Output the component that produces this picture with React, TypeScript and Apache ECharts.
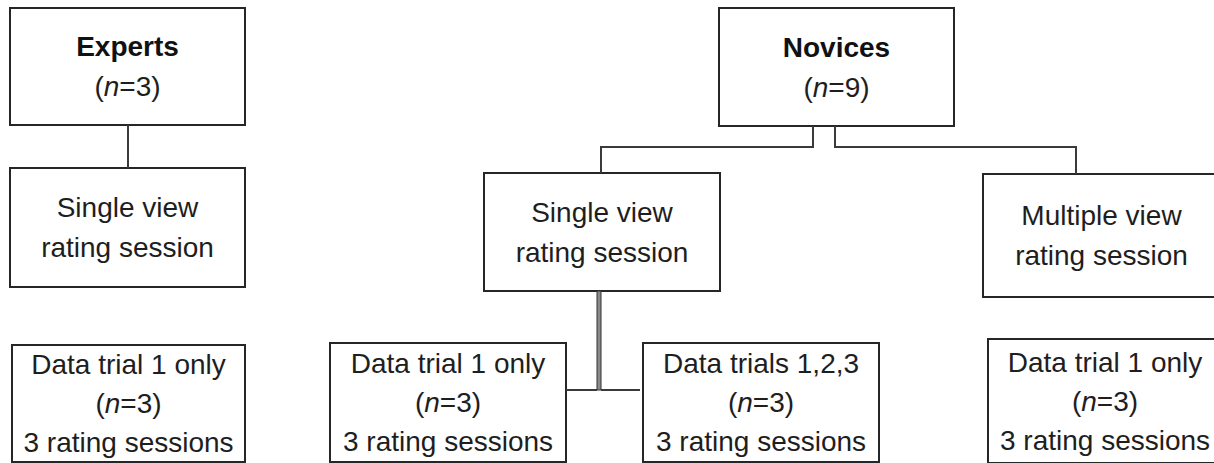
import React, { useEffect, useRef } from "react";
import * as echarts from "echarts";

// ---- Diagram content ----
const groupNames = ["Experts", "Novices"];
const groupN = [3, 9];
const sessionLabels = [
  "Single view\nrating session",
  "Single view\nrating session",
  "Multiple view\nrating session",
];
const trialLabels = ["Data trial 1 only", "Data trial 1 only", "Data trials 1,2,3", "Data trial 1 only"];
const trialN = [3, 3, 3, 3];
const ratingSessionCounts = [3, 3, 3, 3];

// ---- Layout (x0, y0, x1, y1) ----
const groupBoxes = [
  [10, 8, 245, 125],
  [719, 8, 954, 126],
];
const sessionBoxes = [
  [10, 168, 245, 287],
  [484, 173, 720, 291],
  [983, 174, 1220, 297],
];
const trialBoxes = [
  [12, 345, 245, 462],
  [330, 343, 566, 462],
  [643, 343, 879, 462],
  [988, 339, 1222, 463],
];
const connectors: number[][][] = [
  [[128, 125], [128, 168]],
  [[813, 126], [813, 147], [601, 147], [601, 173]],
  [[835, 126], [835, 147], [1076, 147], [1076, 174]],
  [[566, 390], [597, 390]],
  [[601, 390], [640, 390]],
];

const FONT = "'Liberation Sans', Arial, Helvetica, sans-serif";
const FS = 28;
const LH = 40;
const TEXT_COLOR = "#1e1e1e";
const BORDER = "#262626";

function boxRect(b: number[]) {
  return {
    type: "rect",
    shape: { x: b[0], y: b[1], width: b[2] - b[0], height: b[3] - b[1] },
    style: { fill: "#fff", stroke: BORDER, lineWidth: 2 },
    z: 1,
  };
}

function boxText(b: number[], text: string, lh: number) {
  return {
    type: "text",
    x: (b[0] + b[2]) / 2,
    y: (b[1] + b[3]) / 2,
    z: 5,
    style: {
      text,
      fill: TEXT_COLOR,
      fontSize: FS,
      fontFamily: FONT,
      lineHeight: lh,
      align: "center",
      verticalAlign: "middle",
      rich: {
        i: { fontStyle: "italic", fontSize: FS, fontFamily: FONT, lineHeight: lh, fill: TEXT_COLOR },
        b: { fontWeight: "bold", fontSize: FS, fontFamily: FONT, lineHeight: lh, fill: "#111" },
        t: { fontSize: FS, fontFamily: FONT, lineHeight: lh, fill: TEXT_COLOR },
      },
    },
  };
}

export default function App() {
  const ref = useRef<HTMLDivElement>(null);
  useEffect(() => {
    document.body.style.margin = "0";
    if (!ref.current) return;
    const chart = echarts.init(ref.current, null, { renderer: "svg" });
    const elements: any[] = [];

    // background
    elements.push({
      type: "rect",
      shape: { x: 0, y: 0, width: 1214, height: 463 },
      style: { fill: "#fff" },
      z: 0,
    });

    // connectors
    connectors.forEach((pts) => {
      elements.push({
        type: "polyline",
        shape: { points: pts },
        style: { stroke: "#3a3a3a", lineWidth: 2, fill: null },
        z: 2,
      });
    });
    // double vertical line below novice single-view box
    elements.push({
      type: "rect",
      shape: { x: 597, y: 291, width: 4, height: 99 },
      style: { fill: "#8a8a8a", stroke: "#333", lineWidth: 1 },
      z: 2,
    });

    groupBoxes.forEach((b, i) => {
      elements.push(boxRect(b));
      elements.push(boxText(b, `{b|${groupNames[i]}}\n{t|(}{i|n}{t|=${groupN[i]})}`, LH));
    });
    sessionBoxes.forEach((b, i) => {
      elements.push(boxRect(b));
      const txt = sessionLabels[i]
        .split("\n")
        .map((s) => `{t|${s}}`)
        .join("\n");
      elements.push(boxText(b, txt, LH));
    });
    trialBoxes.forEach((b, i) => {
      elements.push(boxRect(b));
      elements.push(
        boxText(
          b,
          `{t|${trialLabels[i]}}\n{t|(}{i|n}{t|=${trialN[i]})}\n{t|${ratingSessionCounts[i]} rating sessions}`,
          39
        )
      );
    });

    chart.setOption({
      animation: false,
      graphic: { elements },
    });
    return () => chart.dispose();
  }, []);
  return <div ref={ref} style={{ width: 1214, height: 463 }} />;
}
